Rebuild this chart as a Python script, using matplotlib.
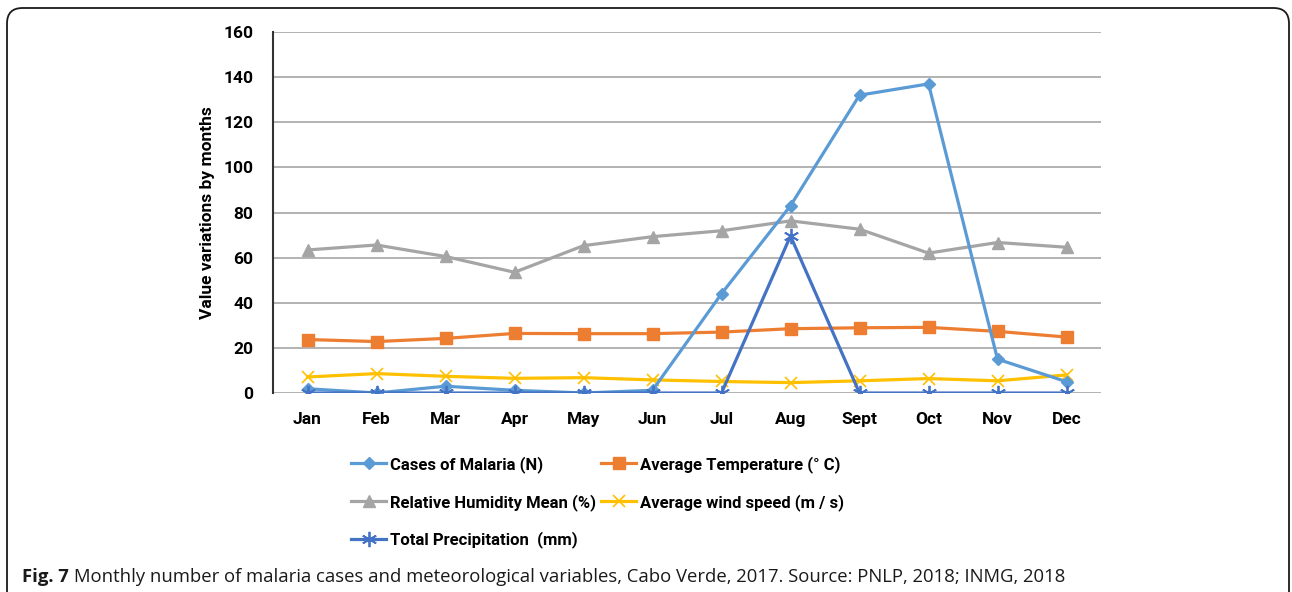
import matplotlib
matplotlib.use("Agg")
import matplotlib.pyplot as plt
from matplotlib.patches import FancyBboxPatch

months = ["Jan", "Feb", "Mar", "Apr", "May", "Jun", "Jul", "Aug", "Sept", "Oct", "Nov", "Dec"]
malaria = [1.9, 0, 3.0, 1.2, 0, 1.2, 44, 83, 132, 137, 15, 5]
temperature = [23.7, 22.8, 24.2, 26.4, 26.3, 26.3, 27.0, 28.5, 28.9, 29.1, 27.3, 24.8]
humidity = [63.4, 65.6, 60.5, 53.5, 65.3, 69.3, 71.9, 76.3, 72.6, 62.0, 66.7, 64.6]
wind = [7.1, 8.6, 7.4, 6.5, 6.8, 5.8, 5.1, 4.6, 5.4, 6.4, 5.4, 8.0]
precip = [0, 0, 0, 0, 0, 0, 0, 69.6, 0, 0, 0, 0]
yticks = [0, 20, 40, 60, 80, 100, 120, 140, 160]

W, H = 1292, 592
fig = plt.figure(figsize=(W / 100, H / 100), dpi=100)
fig.patch.set_facecolor("white")

# outer rounded border
border = FancyBboxPatch((7 / W, -30 / H), (1289 - 7) / W, (584 + 30) / H,
                        boxstyle="round,pad=0,rounding_size=0.012",
                        transform=fig.transFigure, fill=False, ec="#1a1a1a", lw=1.3,
                        mutation_aspect=W / H, zorder=0)
fig.patches.append(border)

ax = fig.add_axes([273 / W, (H - 393) / H, (1101 - 273) / W, 361 / H])
x = list(range(len(months)))

FONT = "Roboto"
FS = 12.5

l1, = ax.plot(x, malaria, color="#5B9BD5", lw=2.3, marker="D", ms=6.5, zorder=5,
              label="Cases of Malaria (N)")
l2, = ax.plot(x, temperature, color="#ED7D31", lw=2.3, marker="s", ms=8.5, zorder=4,
              label="Average Temperature (° C)")
l3, = ax.plot(x, humidity, color="#A5A5A5", lw=2.3, marker="^", ms=8.5, zorder=3,
              label="Relative Humidity Mean (%)")
l4, = ax.plot(x, wind, color="#FFC000", lw=2.3, marker="x", ms=8, mew=1.2, zorder=3,
              label="Average wind speed (m / s)")
l5, = ax.plot(x, precip, color="#4472C4", lw=2.3, marker=(6, 2, 0), ms=11, mew=1.3, zorder=6,
              label="Total Precipitation  (mm)")

ax.set_xlim(-0.5, len(months) - 0.5)
ax.set_ylim(0, 160)
ax.set_yticks(yticks)
ax.set_xticks(x)
ax.set_xticklabels(months)
ax.yaxis.grid(True, color="#a6a6a6", lw=1.2)
ax.set_axisbelow(True)
for s in ["top", "right", "bottom"]:
    ax.spines[s].set_visible(False)
ax.spines["left"].set_color("#333333")
ax.spines["left"].set_linewidth(1.5)
ax.tick_params(length=0, pad=14, labelsize=FS)
for lab in ax.get_xticklabels() + ax.get_yticklabels():
    lab.set_fontfamily(FONT)
    lab.set_fontweight("bold")
ax.set_ylabel("Value variations by months", fontsize=FS, labelpad=6, family=FONT, weight="bold")

LFS = 12
handles = [l1, l3, l5, l2, l4]
leg = fig.legend(handles=handles, labels=[h.get_label() for h in handles], ncol=2,
                 loc="upper left", bbox_to_anchor=(336 / W, 1 - 441 / H),
                 frameon=False, handlelength=2.1, handletextpad=0.25,
                 columnspacing=0.3, labelspacing=1.25,
                 prop=dict(family=FONT, weight="bold", size=LFS))

# caption
r = fig.canvas.get_renderer()
t1 = fig.text(22 / W, 1 - 577 / H, "Fig. 7", family="Open Sans", weight="bold",
              fontsize=13.3, va="center", ha="left", color="#1a1a1a")
bb = t1.get_window_extent(renderer=r)
fig.text((bb.x1 + 5) / W, 1 - 577 / H,
         "Monthly number of malaria cases and meteorological variables, Cabo Verde, 2017. Source: PNLP, 2018; INMG, 2018",
         family="Open Sans", fontsize=13.3, va="center", ha="left", color="#1a1a1a")

fig.savefig("out.png", dpi=100, facecolor="white")
